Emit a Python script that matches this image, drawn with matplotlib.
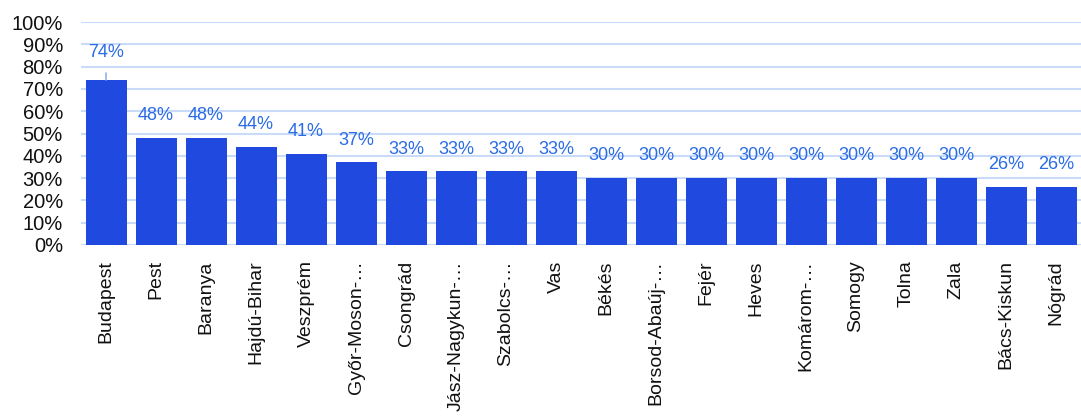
import matplotlib
matplotlib.use("Agg")
import matplotlib.pyplot as plt

categories = ["Budapest", "Pest", "Baranya", "Hajdú-Bihar", "Veszprém", "Győr-Moson-…",
              "Csongrád", "Jász-Nagykun-…", "Szabolcs-…", "Vas", "Békés", "Borsod-Abaúj-…",
              "Fejér", "Heves", "Komárom-…", "Somogy", "Tolna", "Zala", "Bács-Kiskun", "Nógrád"]
values = [74, 48, 48, 44, 41, 37, 33, 33, 33, 33, 30, 30, 30, 30, 30, 30, 30, 30, 26, 26]
yticks = [0, 10, 20, 30, 40, 50, 60, 70, 80, 90, 100]

plt.rcParams['font.family'] = ['Liberation Sans', 'DejaVu Sans']

W, H = 1081, 416
fig = plt.figure(figsize=(W / 100, H / 100), dpi=100)
ax = fig.add_axes([81 / W, 1 - 245 / H, 1000 / W, 223 / H])

bar_color = "#2049e0"
label_color = "#2a6be6"
grid_color = "#c9dbf8"

x = list(range(len(categories)))
ax.bar(x, values, width=0.82, color=bar_color, zorder=3)

ax.set_xlim(-0.5, len(categories) - 0.5)
ax.set_ylim(0, 100)
ax.set_yticks(yticks)
ax.set_yticklabels([f"{v}%" for v in yticks], fontsize=14.5, color="#111111")
ax.yaxis.grid(True, color=grid_color, linewidth=1.5, zorder=0)
ax.set_axisbelow(True)
ax.set_xticks(x)
ax.set_xticklabels(categories, rotation=90, fontsize=14, color="#111111", va="top", ha="center")
ax.tick_params(axis="both", length=0)
ax.tick_params(axis="x", pad=11)
ax.tick_params(axis="y", pad=13)
for s in ax.spines.values():
    s.set_visible(False)

for i, v in enumerate(values):
    if i == 0:
        ax.annotate(f"{v}%", xy=(i, v), xytext=(i, v + 12.5), ha="center", va="center",
                    fontsize=13, color=label_color,
                    arrowprops=dict(arrowstyle="-", color="#8fb0ee", lw=1.2, shrinkA=7, shrinkB=0))
    else:
        ax.text(i, v + 10, f"{v}%", ha="center", va="center", fontsize=13, color=label_color)

fig.savefig("out.png", dpi=100)
